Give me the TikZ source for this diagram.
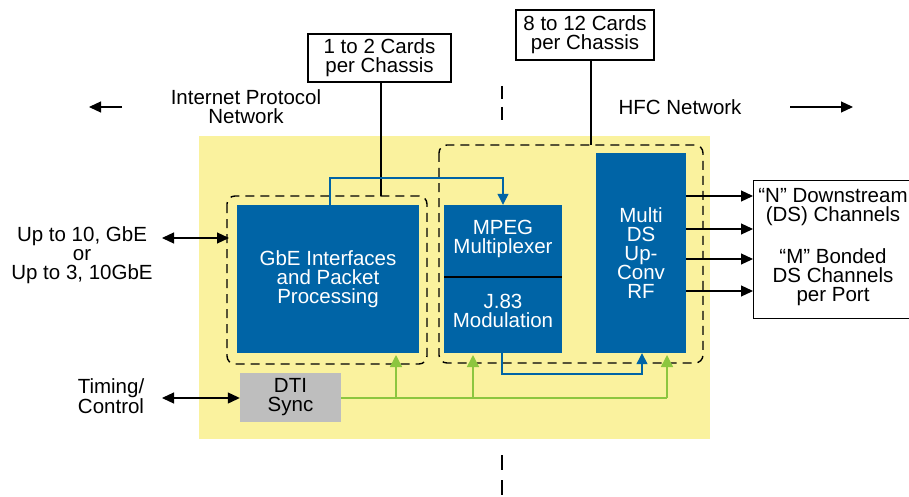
\documentclass[tikz,border=0pt]{standalone}
\usepackage{fontspec}
\setmainfont{Liberation Sans}
\usetikzlibrary{arrows.meta}
\definecolor{bgyellow}{HTML}{FAF29E}
\definecolor{boxblue}{HTML}{0064A6}
\definecolor{boxgray}{HTML}{BEBEBE}
\definecolor{lgreen}{HTML}{8CC63F}
\begin{document}
\begin{tikzpicture}[x=1pt,y=-1pt,
  txt/.style={font=\fontsize{20.5}{19}\selectfont, align=center, inner sep=0pt},
  bluebox/.style={fill=boxblue, draw=none, inner sep=0pt, text=white, font=\fontsize{20.5}{19}\selectfont, align=center},
  graybox/.style={fill=boxgray, draw=none, inner sep=0pt, font=\fontsize{20.5}{19}\selectfont, align=center},
  labelbox/.style={draw=black, line width=1.2pt, fill=white, inner sep=0pt, font=\fontsize{20.5}{19}\selectfont, align=center},
  dashbox/.style={draw=black, line width=1.4pt, dash pattern=on 9pt off 6pt, rounded corners=8pt},
  blk/.style={line width=1.2pt, -{Triangle[length=12pt,width=11pt]}},
  dbl/.style={line width=1.2pt, {Triangle[length=12pt,width=11pt]}-{Triangle[length=12pt,width=11pt]}},
  bluel/.style={draw=boxblue, line width=1.3pt, -{Triangle[length=11pt,width=11pt]}},
  greenl/.style={draw=lgreen, line width=1.6pt, -{Triangle[length=12pt,width=12pt]}},
  cline/.style={line width=1.2pt}
]
\useasboundingbox (0,0) rectangle (909,497);
% yellow background
\fill[bgyellow] (199,136) rectangle (710,439);
% centre dashed line
\draw[line width=1.4pt, dash pattern=on 13pt off 8pt] (502,86) -- (502,124);
\draw[line width=1.4pt, dash pattern=on 15pt off 10pt] (502,455) -- (502,500);
% dashed group boxes
\draw[dashbox] (227,196) rectangle (427,364);
\draw[dashbox] (439,145) rectangle (703,363);
\coordinate (lgtop) at (381,196);
\coordinate (rgtop) at (591,145);
% blue boxes
\node[bluebox, minimum width=182pt, minimum height=148pt] (gbe) at (328,279) {GbE Interfaces\\and Packet\\Processing};
\node[bluebox, minimum width=118pt, minimum height=72pt] (mpeg) at (503,241) {};
\node[bluebox, minimum width=118pt, minimum height=76pt] (j83) at (503,315) {};
\node[txt, text=white] at (503,239) {MPEG\\Multiplexer};
\node[txt, text=white] at (503,311) {J.83\\Modulation};
\draw[black, line width=1.4pt] (444,277) -- (562,277);
\node[bluebox, minimum width=90pt, minimum height=200pt] (rf) at (641,253) {Multi\\DS\\Up-\\Conv\\RF};
\node[graybox, minimum width=101pt, minimum height=49pt] (dti) at (290.5,397.5) {DTI\\Sync};
% top label boxes
\node[labelbox, minimum width=143pt, minimum height=48pt] (c12) at (379.5,58) {1 to 2 Cards\\per Chassis};
\node[labelbox, minimum width=138pt, minimum height=50pt] (c812) at (585,35) {8 to 12 Cards\\per Chassis};
\draw[cline] (c12.south -| lgtop) -- (lgtop);
\draw[cline] (c812.south -| rgtop) -- (rgtop);
% network labels
\node[txt] (ipn) at (246,107) {Internet Protocol\\Network};
\node[txt] (hfc) at (680,107) {HFC Network};
\coordinate (ipa1) at (122,107); \coordinate (ipa2) at (89,107);
\coordinate (hfa1) at (790,107); \coordinate (hfa2) at (853,107);
\draw[blk] (ipa1) -- (ipa2);
\draw[blk] (hfa1) -- (hfa2);
% left labels
\node[txt] (up) at (82,255) {Up to 10, GbE\\or\\Up to 3, 10GbE};
\node[txt] (tim) at (111,396) {Timing/\\Control};
\coordinate (upa) at (162,238); \coordinate (upb) at (229,238);
\draw[dbl] (upa) -- (upb);
\coordinate (tia) at (162,398);
\draw[dbl] (tia) -- (dti.west |- tia);
% output box
\node[labelbox, anchor=north west, minimum width=170pt, minimum height=138pt] (out) at (753,180) {};
\node[txt] at (833,207) {“N” Downstream\\(DS) Channels};
\node[txt] at (833,277) {“M” Bonded\\DS Channels\\per Port};
\foreach \yy in {196,229,259,291}{
  \draw[blk] (686,\yy) -- (out.west |- 0,\yy);
}
% blue connectors
\coordinate (b1) at (330,178); \coordinate (b2) at (503,178);
\draw[bluel] (gbe.north -| b1) -- (b1) -- (b2) -- (mpeg.north -| b2);
\coordinate (b3) at (502,374); \coordinate (b4) at (642,374);
\draw[bluel] (j83.south -| b3) -- (b3) -- (b4) -- (rf.south -| b4);
% green connectors
\coordinate (g1) at (396,398); \coordinate (g2) at (473,398); \coordinate (g3) at (667,398);
\draw[lgreen, line width=1.6pt] (dti.east |- g1) -- (g3);
\draw[greenl] (g1) -- (396,355);
\draw[greenl] (g2) -- (473,355);
\draw[greenl] (g3) -- (667,355);
\end{tikzpicture}
\end{document}
